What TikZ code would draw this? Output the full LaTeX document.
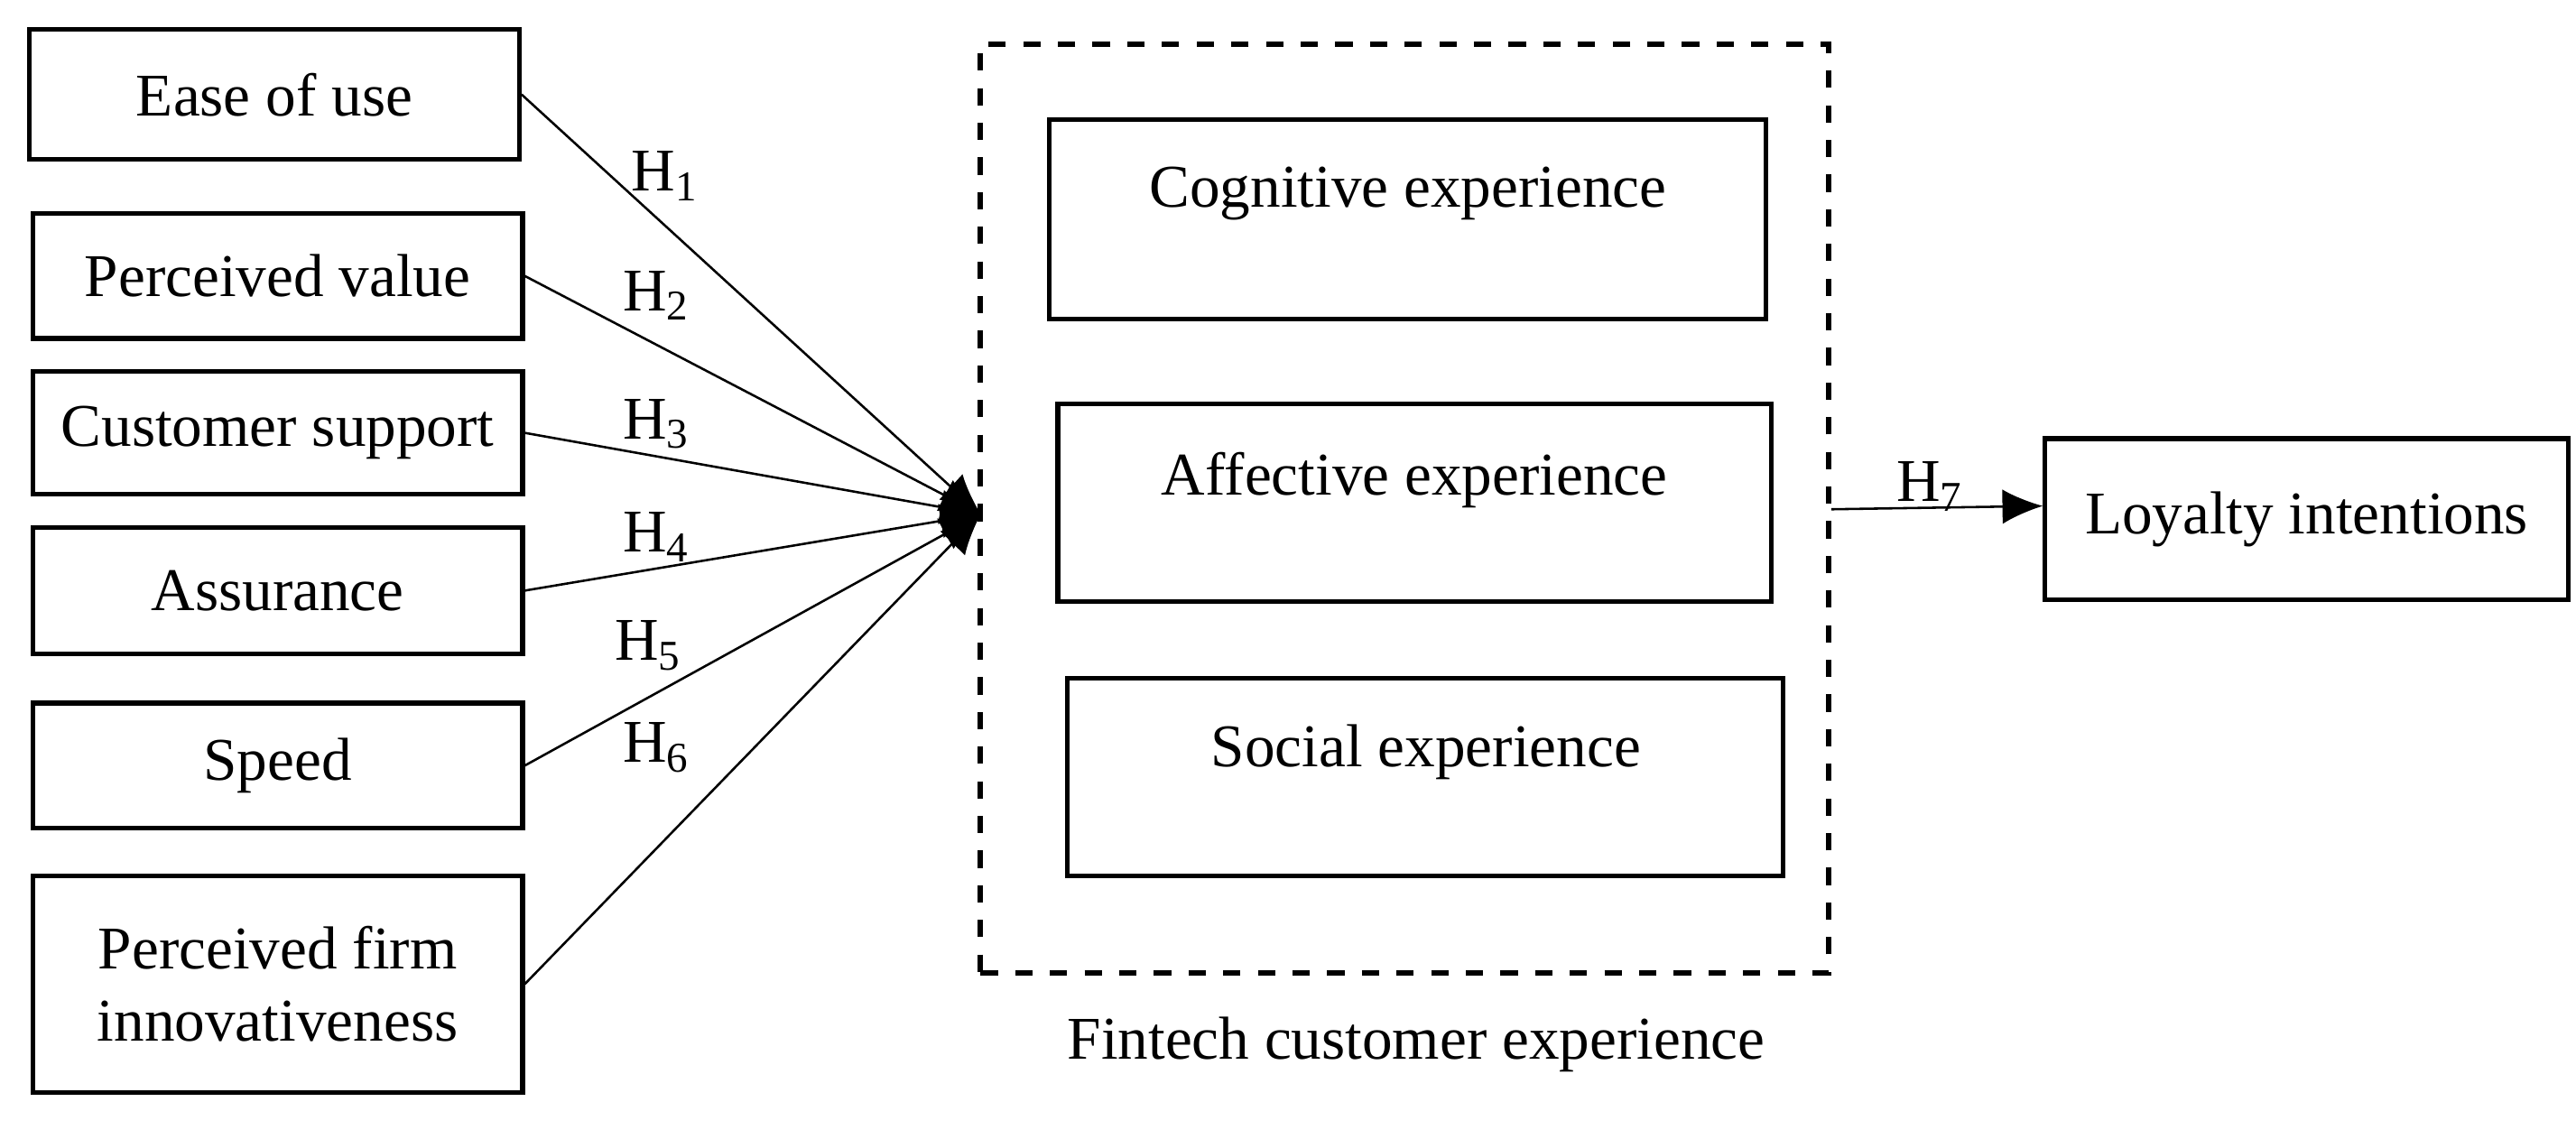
\documentclass[tikz,border=0pt]{standalone}
\usepackage{fontspec}
\setmainfont{Liberation Serif}
\usetikzlibrary{arrows.meta}
\begin{document}
\begin{tikzpicture}[x=0.01cm,y=-0.01cm,
 box/.style={draw,line width=0.8pt,inner sep=0pt,font=\fontsize{10.5}{12.5}\selectfont,align=center},
 ibox/.style={draw,line width=0.8pt,inner sep=0pt},
 lab/.style={font=\fontsize{10.5}{12}\selectfont},
 arr/.style={-{Latex[length=7pt,width=6pt]},line width=0.4pt}]
\useasboundingbox (0,0) rectangle (1568,693);
\node[box,minimum width=2.98cm,minimum height=0.79cm] (a) at (167,57.5) {Ease of use};
\node[box,minimum width=2.98cm,minimum height=0.76cm] (b) at (169,168) {Perceived value};
\node[box,minimum width=2.98cm,minimum height=0.75cm] (c) at (169,263.5) {Customer support};
\node[box,minimum width=2.98cm,minimum height=0.77cm] (d) at (169,359.5) {Assurance};
\node[box,minimum width=2.98cm,minimum height=0.76cm] (e) at (169,466) {Speed};
\node[box,minimum width=2.98cm,minimum height=1.32cm] (f) at (169,599) {Perceived firm\\innovativeness};
\node[draw,dashed,line width=0.9pt,minimum width=5.16cm,minimum height=5.65cm,inner sep=0pt] (g) at (855,309.5) {};
\node[ibox,minimum width=4.36cm,minimum height=1.21cm] (g1) at (857,133.5) {};
\node[ibox,minimum width=4.34cm,minimum height=1.20cm] (g2) at (861,306) {};
\node[ibox,minimum width=4.35cm,minimum height=1.20cm] (g3) at (867.5,473) {};
\node[lab] (t1) at (857,118) {Cognitive experience};
\node[lab] (t2) at (861,292) {Affective experience};
\node[lab] (t3) at (868,458) {Social experience};
\node[box,minimum width=3.18cm,minimum height=0.98cm] (l) at (1404,316) {Loyalty intentions};
\node[lab] (cap) at (862,636) {Fintech customer experience};
\coordinate (p) at (597,313);
\draw[arr] (a.east) -- (p);
\draw[arr] (b.east) -- (p);
\draw[arr] (c.east) -- (p);
\draw[arr] (d.east) -- (p);
\draw[arr] (e.east) -- (p);
\draw[arr] (f.east) -- (p);
\draw[arr] (g.east |- 0,310) -- (l.west |- 0,308);
\node[lab] (h1) at (405,107) {H\textsubscript{1}};
\node[lab] (h2) at (400,180) {H\textsubscript{2}};
\node[lab] (h3) at (400,258) {H\textsubscript{3}};
\node[lab] (h4) at (400,327) {H\textsubscript{4}};
\node[lab] (h5) at (395,393) {H\textsubscript{5}};
\node[lab] (h6) at (400,455) {H\textsubscript{6}};
\node[lab] (h7) at (1175,296) {H\textsubscript{7}};
\end{tikzpicture}
\end{document}
